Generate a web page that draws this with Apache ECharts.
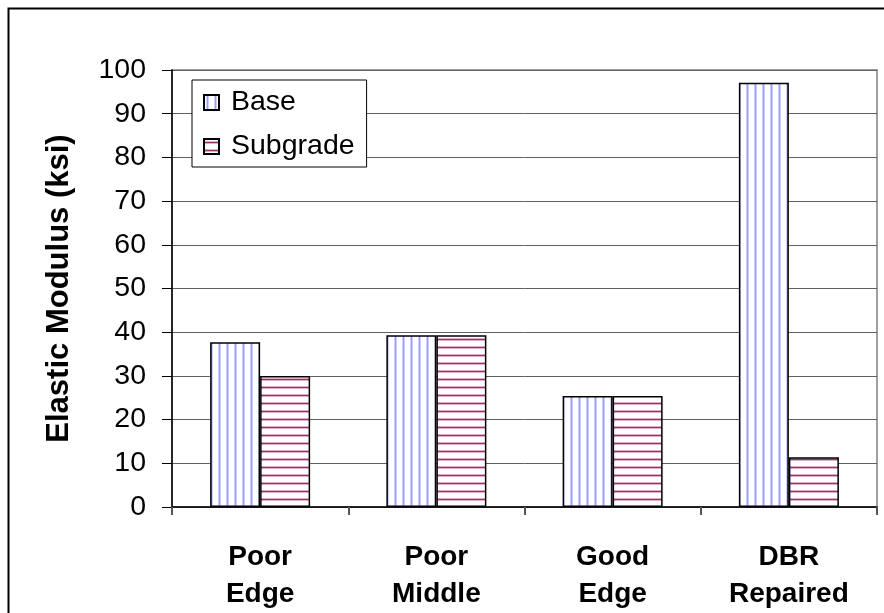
<!DOCTYPE html>
<html>
<head>
<meta charset="utf-8">
<script src="https://cdn.jsdelivr.net/npm/echarts@6/dist/echarts.min.js"></script>
<style>
html,body{margin:0;padding:0;background:#fff;}
#chart{width:884px;height:613px;}
</style>
</head>
<body>
<div id="chart"></div>
<script>
// data
var categories = ['Poor\nEdge', 'Poor\nMiddle', 'Good\nEdge', 'DBR\nRepaired'];
var baseVals = [37.7, 39.3, 25.4, 97.1];
var subgradeVals = [30.0, 39.3, 25.4, 11.4];
var yTicks = {min: 0, max: 100, interval: 10};

// stripe patterns
function makeStripes(vertical, light, dark) {
    var c = document.createElement('canvas');
    c.width = 8; c.height = 8;
    var ctx = c.getContext('2d');
    ctx.fillStyle = '#ffffff';
    ctx.fillRect(0, 0, 8, 8);
    if (vertical) {
        ctx.fillStyle = light;
        ctx.fillRect(2, 0, 3, 8);
        ctx.fillStyle = dark;
        ctx.fillRect(3, 0, 1, 8);
    } else {
        ctx.fillStyle = light;
        ctx.fillRect(0, 2, 8, 3);
        ctx.fillStyle = dark;
        ctx.fillRect(0, 3, 8, 1);
    }
    return {image: c, repeat: 'repeat'};
}
var basePattern = makeStripes(true, '#d0d0ff', '#9999ff');
var subPattern = makeStripes(false, '#dbb0c6', '#993366');

var chart = echarts.init(document.getElementById('chart'));
var font = 'Liberation Sans, Arial, sans-serif';

var option = {
    animation: false,
    backgroundColor: '#ffffff',
    textStyle: {fontFamily: font},
    graphic: [{
        type: 'rect',
        shape: {x: 8.5, y: 8.5, width: 1000, height: 1000},
        style: {fill: 'none', stroke: '#000', lineWidth: 2},
        silent: true
    }],
    grid: {
        left: 172, top: 70, right: 7, bottom: 106,
        show: true, borderColor: '#a0a0a0', borderWidth: 2,
        containLabel: false
    },
    legend: {
        orient: 'vertical',
        left: 192, top: 80,
        padding: [8, 12, 6, 11],
        itemGap: 15,
        itemWidth: 15, itemHeight: 15,
        icon: 'rect',
        backgroundColor: '#fff',
        borderColor: '#000', borderWidth: 1,
        textStyle: {fontFamily: font, fontSize: 28.5, color: '#000', padding: [0, 0, 0, 7]},
        data: ['Base', 'Subgrade']
    },
    xAxis: {
        type: 'category',
        data: categories,
        axisLine: {lineStyle: {color: '#000', width: 1.5}},
        axisTick: {show: true, length: 8, lineStyle: {color: '#555', width: 2}},
        axisLabel: {
            fontFamily: font, fontSize: 28, fontWeight: 'bold', color: '#000',
            lineHeight: 37, margin: 32
        }
    },
    yAxis: {
        type: 'value',
        min: yTicks.min, max: yTicks.max, interval: yTicks.interval,
        name: 'Elastic Modulus (ksi)',
        nameLocation: 'middle',
        nameGap: 97,
        nameTextStyle: {fontFamily: font, fontSize: 31, fontWeight: 'bold', color: '#000'},
        axisLine: {show: true, lineStyle: {color: '#000', width: 1.5}},
        axisTick: {show: true, length: 10, lineStyle: {color: '#000'}},
        axisLabel: {fontFamily: font, fontSize: 28.5, color: '#000', margin: 26},
        splitLine: {lineStyle: {color: '#606060', width: 1}}
    },
    series: [{
        name: 'Base',
        type: 'bar',
        data: baseVals,
        barWidth: 50,
        barGap: '0%',
        itemStyle: {color: basePattern, borderColor: '#000', borderWidth: 1.5}
    }, {
        name: 'Subgrade',
        type: 'bar',
        data: subgradeVals,
        barWidth: 50,
        barGap: '0%',
        itemStyle: {color: subPattern, borderColor: '#000', borderWidth: 1.5}
    }]
};
chart.setOption(option);
</script>
</body>
</html>
